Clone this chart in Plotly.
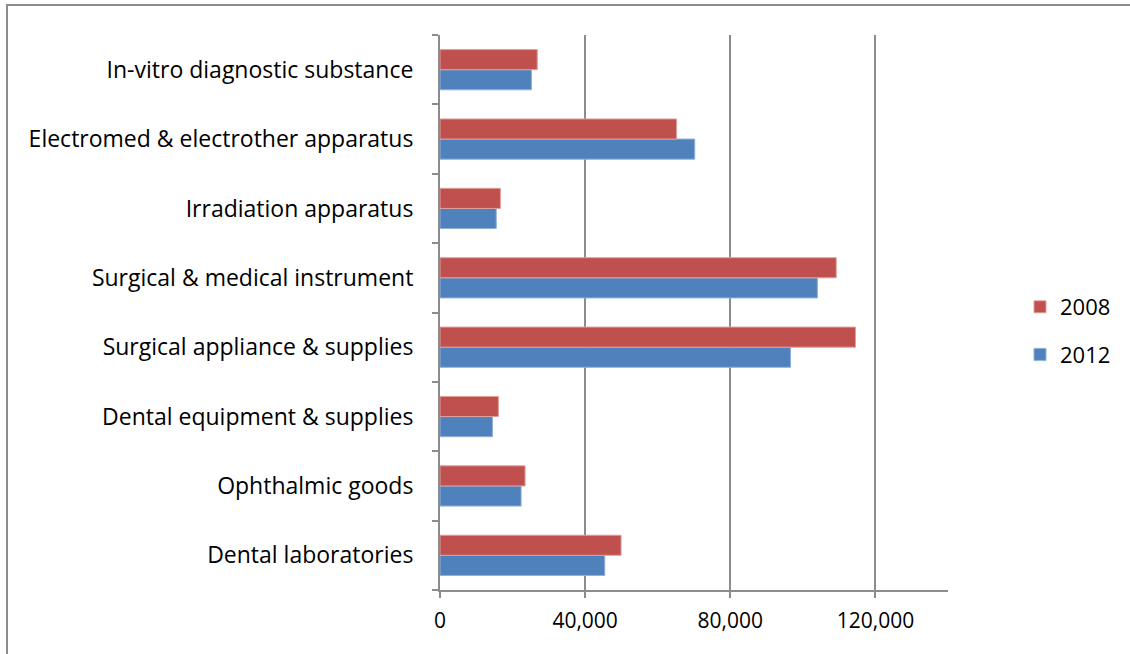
import plotly.graph_objects as go

categories = [
    "Dental laboratories",
    "Ophthalmic goods",
    "Dental equipment & supplies",
    "Surgical appliance & supplies",
    "Surgical & medical instrument",
    "Irradiation apparatus",
    "Electromed & electrother apparatus",
    "In-vitro diagnostic substance",
]
values_2008 = [49900, 23450, 16100, 114500, 109200, 16650, 65200, 26800]
values_2012 = [45400, 22350, 14450, 96600, 104000, 15500, 70200, 25200]
x_tickvals = [0, 40000, 80000, 120000]
x_ticktext = ["0", "40,000", "80,000", "120,000"]

RED = "#C0504D"
BLUE = "#4F81BD"
GRAY = "#8C8C8C"
FONT = "Open Sans"

fig = go.Figure()
fig.add_trace(go.Bar(
    y=categories, x=values_2012, name="2012", orientation="h",
    legendgroup="g2012", legendrank=2,
    marker=dict(color=BLUE, line=dict(color="#8FB0DA", width=1)),
))
fig.add_trace(go.Bar(
    y=categories, x=values_2008, name="2008", orientation="h",
    legendgroup="g2008", legendrank=1,
    marker=dict(color=RED, line=dict(color="#E0A09E", width=1)),
))

W, H = 1130, 654
L, R, T, B = 440, 182, 35, 64
pw, ph = W - L - R, H - T - B

fig.update_layout(
    width=W, height=H,
    margin=dict(l=L, r=R, t=T, b=B, pad=0),
    paper_bgcolor="white", plot_bgcolor="white",
    barmode="group", bargap=0.42, bargroupgap=0,
    font=dict(family=FONT, size=23, color="#000000"),
    showlegend=True,
    legend=dict(
        x=(1020 - L) / pw, y=(590 - 331) / ph, xanchor="left", yanchor="middle",
        traceorder="grouped", font=dict(family=FONT, size=22),
        itemwidth=30, tracegroupgap=16, bgcolor="rgba(0,0,0,0)",
    ),
    shapes=[dict(
        type="rect", xref="paper", yref="paper",
        x0=(7 - L) / pw, x1=2.0, y0=-1.0, y1=1 + (T - 5) / ph,
        line=dict(color=GRAY, width=2), layer="below",
    )],
)
fig.update_xaxes(
    range=[0, 140000], tickvals=x_tickvals, ticktext=x_ticktext,
    showgrid=True, gridcolor=GRAY, gridwidth=1.5,
    showline=True, linecolor=GRAY, linewidth=2,
    ticks="outside", ticklen=6, tickcolor=GRAY, tickwidth=2,
    zeroline=False, ticklabelstandoff=5, tickfont=dict(family=FONT, size=21),
)
fig.update_yaxes(
    type="category", categoryorder="array", categoryarray=categories,
    showline=True, linecolor=GRAY, linewidth=2,
    ticks="outside", tickson="boundaries", ticklen=6, tickcolor=GRAY, tickwidth=2,
    showgrid=False, ticklabelstandoff=20, tickfont=dict(family=FONT, size=23),
)

fig.write_html("out.html")
